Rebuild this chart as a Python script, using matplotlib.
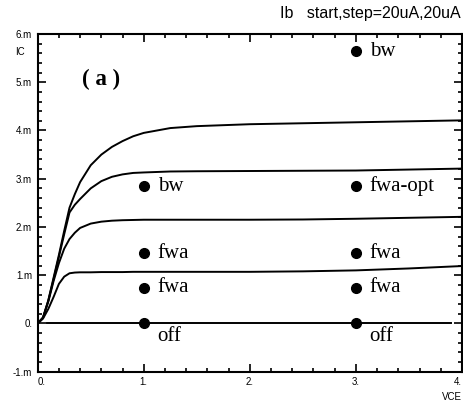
import numpy as np
import matplotlib
matplotlib.use("Agg")
import matplotlib.pyplot as plt
from matplotlib.ticker import MultipleLocator

# VCE sweep points (V)
vce = [0, 0.05, 0.1, 0.15, 0.2, 0.25, 0.3, 0.35, 0.4, 0.5, 0.6, 0.7, 0.8,
       0.9, 1.0, 1.25, 1.5, 2.0, 2.5, 3.0, 3.5, 4.0]

# IC (mA) for Ib = 20, 40, 60, 80 uA
ic_20 = [0, 0.10, 0.30, 0.55, 0.82, 0.97, 1.04, 1.055, 1.06, 1.06, 1.065,
         1.065, 1.065, 1.07, 1.07, 1.07, 1.07, 1.07, 1.08, 1.10, 1.14, 1.19]
ic_40 = [0, 0.12, 0.45, 0.88, 1.25, 1.55, 1.75, 1.88, 1.98, 2.07, 2.11,
         2.13, 2.14, 2.145, 2.15, 2.15, 2.15, 2.15, 2.155, 2.17, 2.19, 2.21]
ic_60 = [0, 0.12, 0.47, 0.92, 1.38, 1.85, 2.30, 2.46, 2.58, 2.80, 2.95,
         3.04, 3.09, 3.12, 3.13, 3.15, 3.155, 3.16, 3.165, 3.17, 3.19, 3.21]
ic_80 = [0, 0.12, 0.48, 0.95, 1.42, 1.92, 2.40, 2.68, 2.93, 3.28, 3.50,
         3.66, 3.78, 3.88, 3.95, 4.05, 4.09, 4.13, 4.15, 4.17, 4.19, 4.21]
curves = [ic_20, ic_40, ic_60, ic_80]

# off-state line (mA)
off_x = [0.09, 3.9]
off_y = [0, 0]

# operating points
pt_x = [1, 1, 1, 1, 3, 3, 3, 3, 3]
pt_y = [0, 0.74, 1.46, 2.84, 0, 0.74, 1.46, 2.84, 5.64]
pt_lbl = ["off", "fwa", "fwa", "bw", "off", "fwa", "fwa", "fwa-opt", "bw"]

x_ticks = [0, 1, 2, 3, 4]
x_labels = ["0.", "1.", "2.", "3.", "4."]
y_ticks = [-1, 0, 1, 2, 3, 4, 5, 6]
y_labels = ["-1.m", "0.", "1.m", "2.m", "3.m", "4.m", "5.m", "6.m"]

sans = ["Liberation Sans", "DejaVu Sans"]
serif = ["Liberation Serif", "DejaVu Serif"]

fig = plt.figure(figsize=(4.63, 4.01), dpi=100)
ax = fig.add_axes([0.0814, 0.0731, 0.9164, 0.8421])

for ic in curves:
    ax.plot(vce, ic, color="black", lw=1.4)
ax.plot(off_x, off_y, color="black", lw=1.4)

ax.plot(pt_x, pt_y, "o", color="black", ms=7, zorder=5)
for x, y, lbl in zip(pt_x, pt_y, pt_lbl):
    if lbl == "off":
        ax.text(x + 0.13, y - 0.27, lbl, family=serif, fontsize=15,
                ha="left", va="center")
    else:
        ax.text(x + 0.13, y, lbl, family=serif, fontsize=15,
                ha="left", va="center")

ax.text(0.42, 5.05, "( a )", family=serif, fontsize=16.5, fontweight="bold",
        ha="left", va="center")

ax.set_xlim(0, 4)
ax.set_ylim(-1, 6)
ax.set_xticks(x_ticks)
ax.set_xticklabels(x_labels, family=sans, fontsize=7)
ax.set_yticks(y_ticks)
ax.set_yticklabels(y_labels, family=sans, fontsize=7)
ax.xaxis.set_minor_locator(MultipleLocator(0.2))
ax.yaxis.set_minor_locator(MultipleLocator(0.2))
labs = ax.get_xticklabels()
labs[0].set_ha("left")
labs[-1].set_ha("right")
ax.tick_params(which="both", direction="in", top=True, right=True, width=1.2)
ax.tick_params(which="major", length=5.5, pad=4)
ax.tick_params(which="minor", length=2.8)
for s in ax.spines.values():
    s.set_linewidth(1.5)

ax.text(-0.03, 5.63, "IC", family=sans, fontsize=7, ha="right", va="center",
        transform=ax.get_yaxis_transform())
ax.text(0.999, -0.075, "VCE", family=sans, fontsize=7, ha="right",
        va="center", transform=ax.transAxes)
fig.text(0.995, 0.967, "Ib   start,step=20uA,20uA", family=sans,
         fontsize=11.5, ha="right", va="center")

fig.savefig("out.png", dpi=100)
